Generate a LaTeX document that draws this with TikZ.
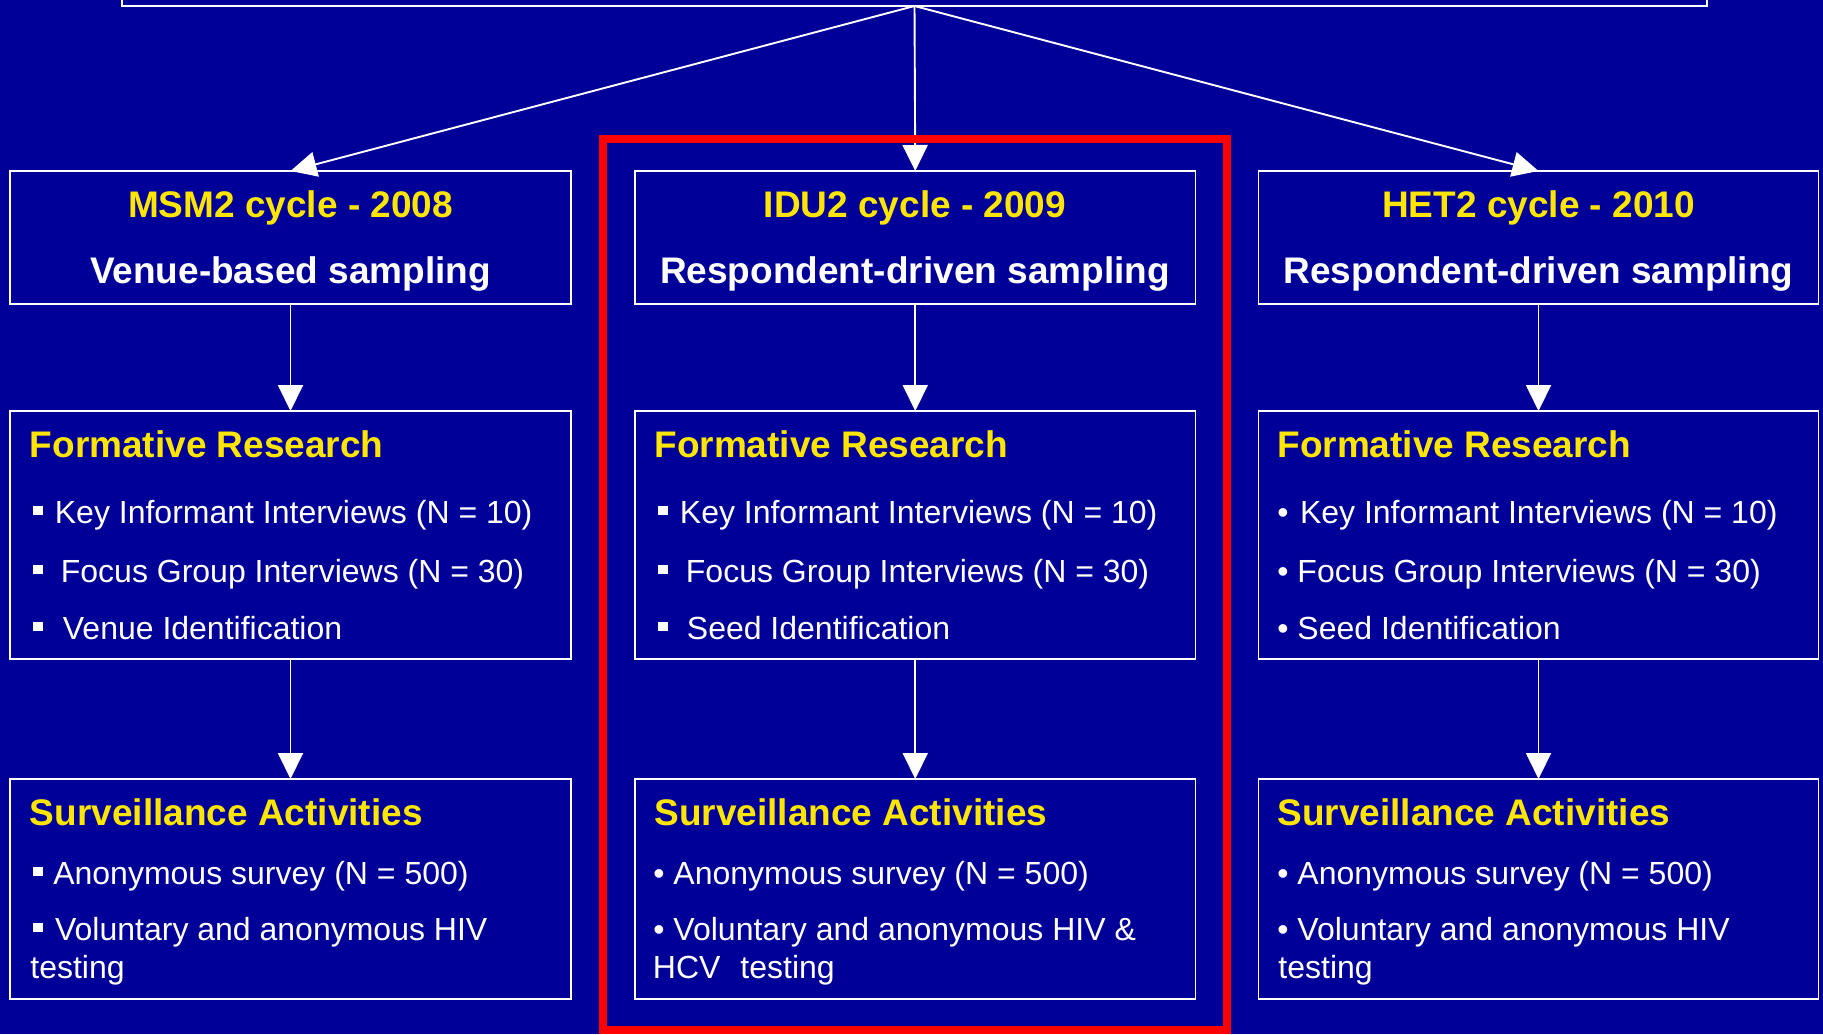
\documentclass[tikz,border=0pt]{standalone}
\usepackage{fontspec}
\setmainfont{Liberation Sans}
\usetikzlibrary{arrows.meta,fit}
\definecolor{bgblue}{HTML}{000099}
\definecolor{yel}{HTML}{FFE600}
\newcommand\sqb{\rule[3.9pt]{5pt}{4.8pt}}
\begin{document}
\begin{tikzpicture}[x=0.5pt,y=-0.5pt,
  box/.style={draw=white, line width=0.95pt, inner sep=0pt, outer sep=0pt},
  arr/.style={draw=white, line width=0.95pt, -{Triangle[width=12.5pt,length=13pt]}},
  hdr/.style={text=yel, font=\fontsize{18.5}{22}\selectfont\bfseries, inner sep=0pt, anchor=base},
  sub/.style={text=white, font=\fontsize{18.5}{22}\selectfont\bfseries, inner sep=0pt, anchor=base},
  ttlb/.style={text=yel, font=\fontsize{18.5}{22}\selectfont\bfseries, inner sep=0pt, anchor=base west},
  itm/.style={text=white, font=\fontsize{16}{19}\selectfont, inner sep=0pt, anchor=base west},
  hilite/.style={draw=red, line width=3.6pt, inner sep=0pt, outer sep=0pt}
]
\useasboundingbox (0,0) rectangle (1823,1034);
\clip (0,0) rectangle (1823,1034);
\fill[bgblue] (0,0) rectangle (1823,1034);

% top box
\node[box, fit={(122,-40) (1707,6)}] (top) {};

% header boxes
\node[box, fit={(10,171) (571,304)}] (msm1) {};
\node[box, fit={(635,171) (1195.5,304)}] (idu1) {};
\node[box, fit={(1258.5,171) (1818.5,304)}] (het1) {};

% formative boxes
\node[box, fit={(10,411) (571,659)}] (msm2) {};
\node[box, fit={(635,411) (1195.5,659)}] (idu2) {};
\node[box, fit={(1258.5,411) (1818.5,659)}] (het2) {};

% surveillance boxes
\node[box, fit={(10,779) (571,999)}] (msm3) {};
\node[box, fit={(635,779) (1195.5,999)}] (idu3) {};
\node[box, fit={(1258.5,779) (1818.5,999)}] (het3) {};

% connectors
\draw[arr] (top.south) -- (msm1.north);
\draw[arr] (top.south) -- (idu1.north);
\draw[arr] (top.south) -- (het1.north);
\draw[arr] (msm1.south) -- (msm2.north);
\draw[arr] (idu1.south) -- (idu2.north);
\draw[arr] (het1.south) -- (het2.north);
\draw[arr] (msm2.south) -- (msm3.north);
\draw[arr] (idu2.south) -- (idu3.north);
\draw[arr] (het2.south) -- (het3.north);

% highlight
\node[hilite, fit={(603,139) (1227,1030)}] (hl) {};

% header texts
\node[hdr] (msmA) at (290.5,217) {MSM2 cycle - 2008};
\node[sub] (msmB) at (290.5,283) {Venue-based sampling};
\node[hdr] (iduA) at (915,217) {IDU2 cycle - 2009};
\node[sub] (iduB) at (915,283) {Respondent-driven sampling};
\node[hdr] (hetA) at (1538.5,217) {HET2 cycle - 2010};
\node[sub] (hetB) at (1538.5,283) {Respondent-driven sampling};

% formative MSM
\node[ttlb] (fmT) at (29.5,457) {Formative Research};
\node[itm] (fm1) at (32.5,523) {\sqb\hspace{6pt}Key Informant Interviews (N = 10)};
\node[itm] (fm2) at (32.5,582) {\sqb\hspace{9pt}Focus Group Interviews (N = 30)};
\node[itm] (fm3) at (32.5,639) {\sqb\hspace{10pt}Venue Identification};

% formative IDU
\node[ttlb] (fiT) at (654,457) {Formative Research};
\node[itm] (fi1) at (657.5,523) {\sqb\hspace{6pt}Key Informant Interviews (N = 10)};
\node[itm] (fi2) at (657.5,582) {\sqb\hspace{9pt}Focus Group Interviews (N = 30)};
\node[itm] (fi3) at (657.5,639) {\sqb\hspace{9.5pt}Seed Identification};

% formative HET
\node[ttlb] (fhT) at (1277,457) {Formative Research};
\node[itm] (fh1) at (1277,523) {•\hspace{5.7pt}Key Informant Interviews (N = 10)};
\node[itm] (fh2) at (1277,582) {• Focus Group Interviews (N = 30)};
\node[itm] (fh3) at (1277,639) {• Seed Identification};

% surveillance MSM
\node[ttlb] (smT) at (29.5,825) {Surveillance Activities};
\node[itm] (sm1) at (32.5,884) {\sqb\hspace{5.2pt}Anonymous survey (N = 500)};
\node[itm] (sm2) at (32.5,940) {\sqb\hspace{6.1pt}Voluntary and anonymous HIV};
\node[itm] (sm3) at (30,978) {testing};

% surveillance IDU
\node[ttlb] (siT) at (654,825) {Surveillance Activities};
\node[itm] (si1) at (653,884) {• Anonymous survey (N = 500)};
\node[itm] (si2) at (653,940) {• Voluntary and anonymous HIV \&};
\node[itm] (si3) at (652.5,978) {HCV\hspace{10pt}testing};

% surveillance HET
\node[ttlb] (shT) at (1277,825) {Surveillance Activities};
\node[itm] (sh1) at (1277,884) {• Anonymous survey (N = 500)};
\node[itm] (sh2) at (1277,940) {• Voluntary and anonymous HIV};
\node[itm] (sh3) at (1278,978) {testing};
\end{tikzpicture}
\end{document}
